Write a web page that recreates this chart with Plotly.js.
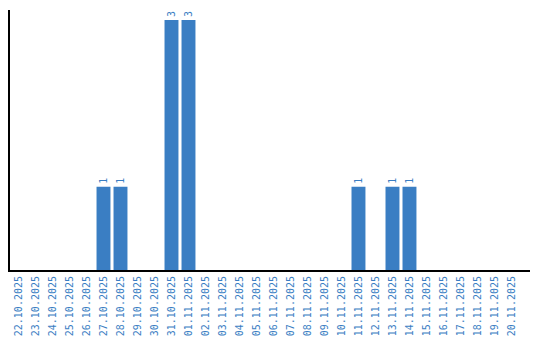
<!DOCTYPE html>
<html><head><meta charset="utf-8">
<script src="https://cdn.plot.ly/plotly-3.0.1.min.js"></script>
<style>body{margin:0;background:#fff}#c{width:540px;height:340px}</style>
</head><body><div id="c"></div>
<script>
const dates = ["22.10.2025","23.10.2025","24.10.2025","25.10.2025","26.10.2025","27.10.2025","28.10.2025","29.10.2025","30.10.2025","31.10.2025","01.11.2025","02.11.2025","03.11.2025","04.11.2025","05.11.2025","06.11.2025","07.11.2025","08.11.2025","09.11.2025","10.11.2025","11.11.2025","12.11.2025","13.11.2025","14.11.2025","15.11.2025","16.11.2025","17.11.2025","18.11.2025","19.11.2025","20.11.2025"];
const counts = [0,0,0,0,0,1,1,0,0,3,3,0,0,0,0,0,0,0,0,0,1,0,1,1,0,0,0,0,0,0];
const labels = counts.map(v => v > 0 ? String(v) : "");
const blue = "#3a7ec3";
Plotly.newPlot("c", [{
  type: "bar", x: dates, y: counts, text: labels,
  textposition: "outside", textangle: -90, cliponaxis: false,
  textfont: {family: "DejaVu Sans Mono", size: 10, color: blue},
  marker: {color: blue}, hoverinfo: "none"
}], {
  width: 540, height: 340,
  margin: {l: 10, r: 10, t: 10, b: 70},
  paper_bgcolor: "#fff", plot_bgcolor: "#fff",
  bargap: 0.18, showlegend: false,
  xaxis: {type: "category", range: [-0.5, 30.09], tickangle: -90,
    tickfont: {family: "DejaVu Sans Mono", size: 10, color: blue},
    showline: true, linecolor: "#000", linewidth: 2, showgrid: false, ticks: "", zeroline: false},
  yaxis: {range: [0, 3.12], showticklabels: false, showgrid: false, zeroline: false,
    showline: true, linecolor: "#000", linewidth: 2, ticks: ""}
}, {displayModeBar: false, staticPlot: true});
</script></body></html>
